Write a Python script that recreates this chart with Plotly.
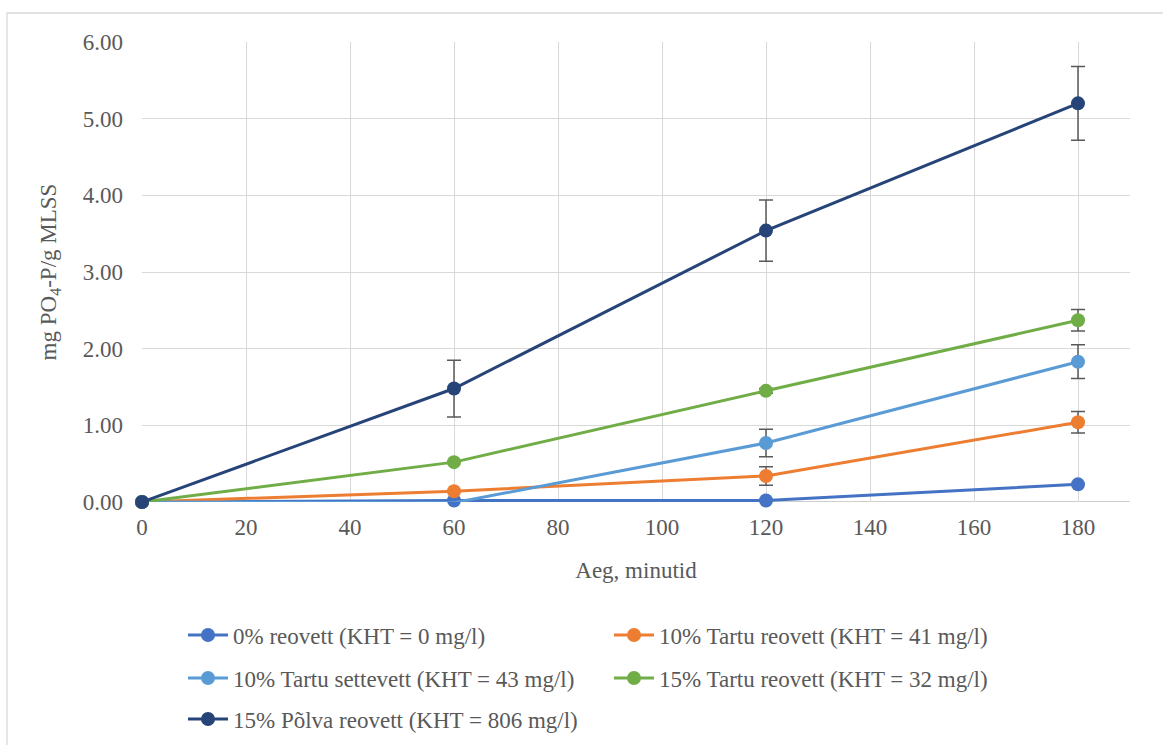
import plotly.graph_objects as go

time_min = [0, 60, 120, 180]

names = [
    "0% reovett (KHT = 0 mg/l)",
    "10% Tartu reovett (KHT = 41 mg/l)",
    "10% Tartu settevett (KHT = 43 mg/l)",
    "15% Tartu reovett (KHT = 32 mg/l)",
    "15% Põlva reovett (KHT = 806 mg/l)",
]
colors = ["#4472C4", "#ED7D31", "#5B9BD5", "#70AD47", "#264478"]
legend_rows = ["legend", "legend", "legend2", "legend2", "legend3"]

v_0 = [0.0, 0.02, 0.02, 0.23]
v_tartu_reo10 = [0.0, 0.14, 0.34, 1.04]
v_tartu_sette10 = [0.0, -0.01, 0.77, 1.83]
v_tartu_reo15 = [0.0, 0.52, 1.45, 2.37]
v_polva15 = [0.0, 1.48, 3.54, 5.20]

e_0 = [0.0, 0.0, 0.0, 0.0]
e_tartu_reo10 = [0.0, 0.0, 0.12, 0.14]
e_tartu_sette10 = [0.0, 0.0, 0.18, 0.22]
e_tartu_reo15 = [0.0, 0.0, 0.03, 0.14]
e_polva15 = [0.0, 0.37, 0.40, 0.48]

values = [v_0, v_tartu_reo10, v_tartu_sette10, v_tartu_reo15, v_polva15]
errors = [e_0, e_tartu_reo10, e_tartu_sette10, e_tartu_reo15, e_polva15]

y_ticks = [0, 1, 2, 3, 4, 5, 6]
x_ticks = [0, 20, 40, 60, 80, 100, 120, 140, 160, 180]

font = '"Liberation Serif", "Times New Roman", "DejaVu Serif", serif'
txt = "#595959"
H = 745

fig = go.Figure()
for n, c, v, e, lg in zip(names, colors, values, errors, legend_rows):
    fig.add_trace(go.Scatter(
        x=time_min, y=v, name=n, mode="lines+markers",
        line=dict(color=c, width=3),
        marker=dict(color=c, size=14),
        cliponaxis=False,
        legend=lg,
        error_y=dict(type="data", array=e, visible=True, color="#595959",
                     thickness=1.5, width=7),
    ))

def leg(py):
    return dict(orientation="h", x=0.0415, xanchor="left",
                yref="container", y=(H - py) / H, yanchor="middle",
                entrywidth=371, entrywidthmode="pixels",
                font=dict(family=font, size=23, color=txt),
                itemwidth=40, bgcolor="rgba(0,0,0,0)")

fig.update_layout(
    width=1163, height=H,
    paper_bgcolor="white", plot_bgcolor="white",
    margin=dict(l=142, r=33, t=42, b=243),
    font=dict(family=font, size=23, color=txt),
    showlegend=True,
    legend=leg(635),
    legend2=leg(678),
    legend3=leg(719),
    xaxis=dict(range=[0, 190], tickvals=x_ticks, showgrid=True, gridcolor="#d9d9d9",
               gridwidth=1.3, zeroline=False, showline=False, ticks="",
               ticklabelstandoff=9, automargin=False,
               title=dict(text="Aeg, minutid", font=dict(family=font, size=23, color=txt), standoff=22),
               tickfont=dict(family=font, size=23, color=txt)),
    yaxis=dict(range=[0, 6], tickvals=y_ticks, tickformat=".2f", showgrid=True,
               gridcolor="#d9d9d9", gridwidth=1.3, zeroline=False,
               showline=False, ticks="", ticklabelstandoff=18, automargin=False,
               title=dict(text="mg PO<sub>4</sub>-P/g MLSS", font=dict(family=font, size=23, color=txt), standoff=19),
               tickfont=dict(family=font, size=23, color=txt)),
    shapes=[
        dict(type="line", xref="paper", yref="y", x0=0, x1=1, y0=0, y1=0,
             line=dict(color="#bfbfbf", width=1.5), layer="below"),
        dict(type="rect", xref="paper", yref="paper",
             x0=(7 - 142) / 988, x1=(1200 - 142) / 988,
             y0=(502 - 780) / 460, y1=(502 - 13) / 460,
             line=dict(color="#d9d9d9", width=1.3), fillcolor="rgba(0,0,0,0)", layer="below"),
    ],
)

fig.write_html("out.html")
